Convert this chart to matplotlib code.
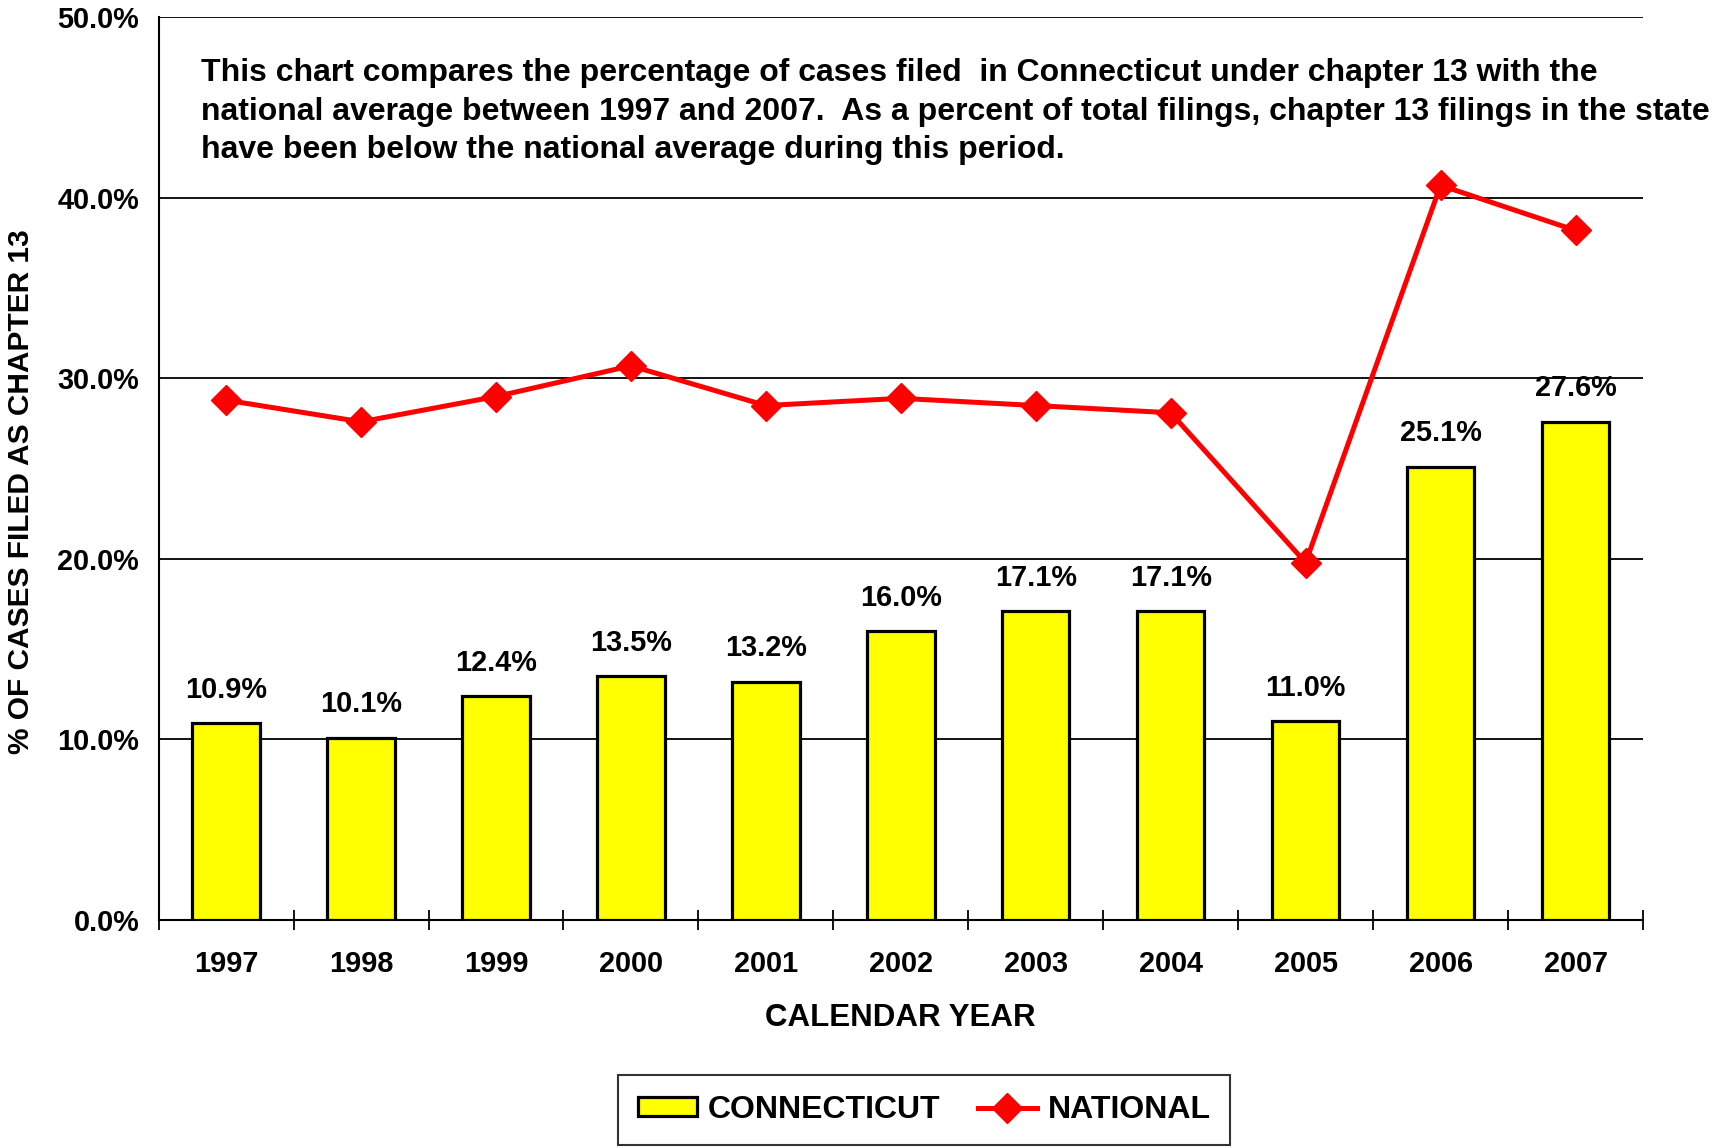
import matplotlib
matplotlib.use("Agg")
import matplotlib.pyplot as plt
import numpy as np

years = ["1997", "1998", "1999", "2000", "2001", "2002", "2003", "2004", "2005", "2006", "2007"]
connecticut = [10.9, 10.1, 12.4, 13.5, 13.2, 16.0, 17.1, 17.1, 11.0, 25.1, 27.6]
national = [28.8, 27.6, 29.0, 30.7, 28.5, 28.9, 28.5, 28.1, 19.8, 40.7, 38.2]
yticks = [0, 10, 20, 30, 40, 50]
note = ("This chart compares the percentage of cases filed  in Connecticut under chapter 13 with the\n"
        "national average between 1997 and 2007.  As a percent of total filings, chapter 13 filings in the state\n"
        "have been below the national average during this period.")

plt.rcParams['font.family'] = ['Liberation Sans', 'DejaVu Sans']
plt.rcParams['font.weight'] = 'bold'
FS = 20.8

fig = plt.figure(figsize=(17.15, 11.48), dpi=100)
ax = fig.add_axes([0.0925, 0.1986, 0.958 - 0.0925, 0.9848 - 0.1986])

x = np.arange(len(years))
bar_c = ax.bar(x, connecticut, width=0.5, color='#FFFF00', edgecolor='black', linewidth=2.3,
               zorder=3, label='CONNECTICUT')
line_n, = ax.plot(x, national, color='#FF0000', linewidth=3.6, marker='D', markersize=15,
                  zorder=4, label='NATIONAL')

for xi, v in zip(x, connecticut):
    ax.annotate(f"{v:.1f}%", (xi, v), xytext=(0, 14), textcoords='offset points',
                ha='center', va='bottom', fontsize=FS, fontweight='bold', zorder=5)

ax.set_ylim(0, 50)
ax.set_xlim(-0.5, len(years) - 0.5)
ax.set_yticks(yticks)
ax.set_yticklabels([f"{t:.1f}%" for t in yticks], fontsize=FS, fontweight='bold')
ax.yaxis.grid(True, color='black', linewidth=1.3, zorder=0)
ax.set_axisbelow(True)
ax.tick_params(axis='y', length=0, pad=14)

ax.set_xticks(x)
ax.set_xticklabels(years, fontsize=FS, fontweight='bold')
ax.tick_params(axis='x', which='major', length=0, pad=21.5)
ax.set_xticks(np.arange(-0.5, len(years), 1.0), minor=True)
ax.tick_params(axis='x', which='minor', direction='inout', length=14, width=1.3)

for s in ['top', 'right']:
    ax.spines[s].set_visible(False)
for s in ['left', 'bottom']:
    ax.spines[s].set_linewidth(1.5)

ax.set_xlabel("CALENDAR YEAR", fontsize=22.5, fontweight='bold', labelpad=18)
fig.text(0.0125, 0.572, "% OF CASES FILED AS CHAPTER 13", rotation=90, ha='center', va='center',
         fontsize=21.5, fontweight='bold')

fig.text(201 / 1715, 1 - 58 / 1148, note, ha='left', va='top', fontsize=23, fontweight='bold',
         linespacing=1.38)

leg = fig.legend([bar_c, line_n], ['CONNECTICUT', 'NATIONAL'], loc='center',
                 bbox_to_anchor=(0.539, 0.033), ncol=2,
                 frameon=True, fancybox=False, edgecolor='black', handlelength=1.85,
                 handleheight=0.55, columnspacing=1.17, handletextpad=0.33,
                 prop={'weight': 'bold', 'size': 23.0}, borderpad=0.62, borderaxespad=0)
leg.get_frame().set_linewidth(1.5)

fig.savefig("out.png", dpi=100)
